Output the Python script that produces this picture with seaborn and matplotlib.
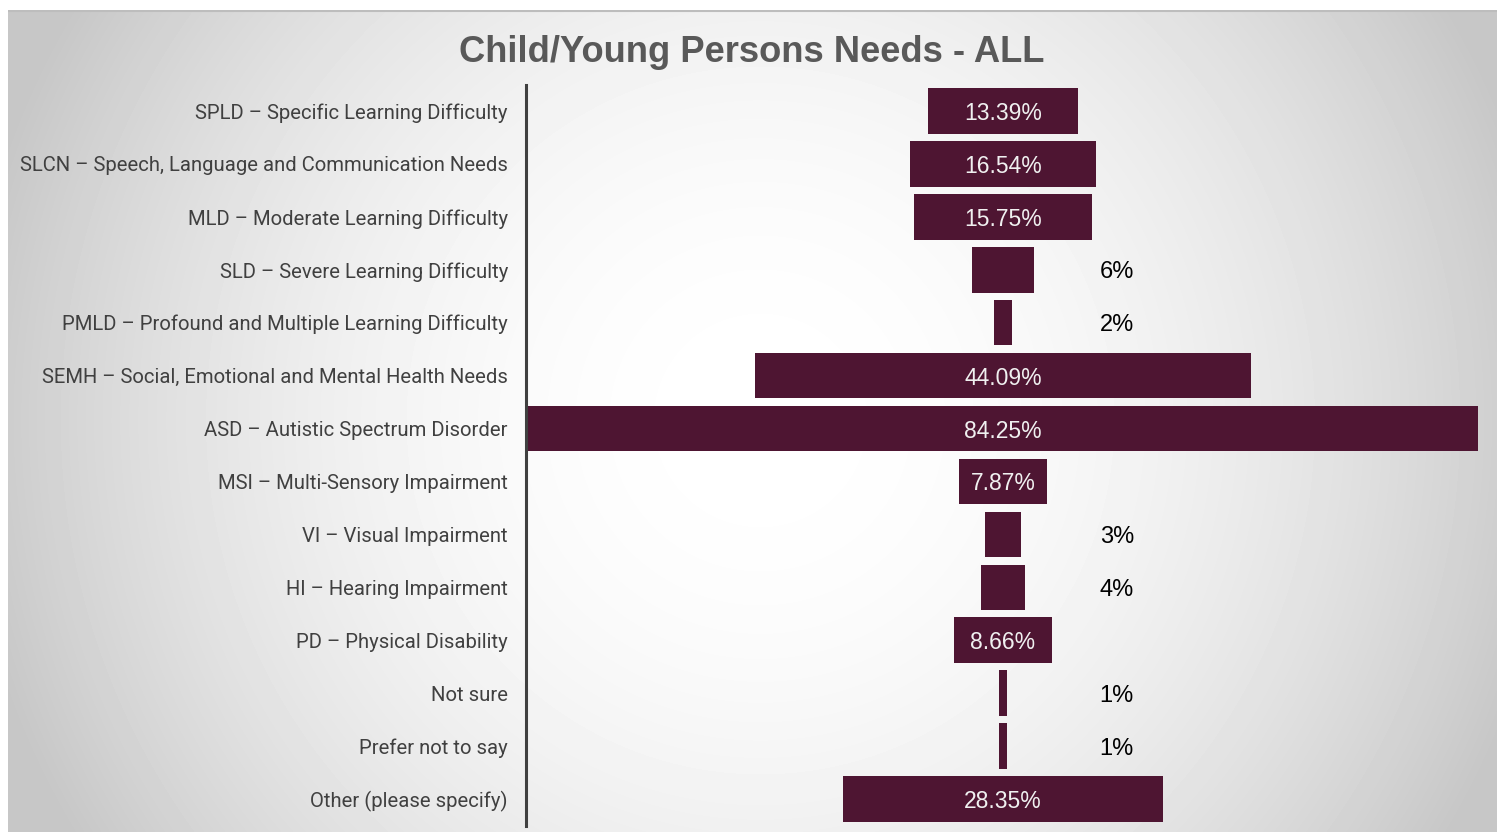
import numpy as np
import pandas as pd
import seaborn as sns
import matplotlib.pyplot as plt

# data
categories = [
    "SPLD – Specific Learning Difficulty",
    "SLCN – Speech, Language and Communication Needs",
    "MLD – Moderate Learning Difficulty",
    "SLD – Severe Learning Difficulty",
    "PMLD – Profound and Multiple Learning Difficulty",
    "SEMH – Social, Emotional and Mental Health Needs",
    "ASD – Autistic Spectrum Disorder",
    "MSI – Multi-Sensory Impairment",
    "VI – Visual Impairment",
    "HI – Hearing Impairment",
    "PD – Physical Disability",
    "Not sure",
    "Prefer not to say",
    "Other (please specify)",
]
values = [13.39, 16.54, 15.75, 5.51, 1.57, 44.09, 84.25, 7.87, 3.15, 3.94, 8.66, 0.79, 0.79, 28.35]
labels = ["13.39%", "16.54%", "15.75%", "6%", "2%", "44.09%", "84.25%",
          "7.87%", "3%", "4%", "8.66%", "1%", "1%", "28.35%"]

df = pd.DataFrame({"Need": categories, "Percent": values, "Label": labels})

sns.set_theme(style="white")
plt.rcParams['font.family'] = ['Liberation Sans', 'DejaVu Sans']

W, H = 1503, 832
fig = plt.figure(figsize=(W / 100, H / 100), dpi=100)
fig.patch.set_facecolor("white")

# slide-like radial grey background
bg = fig.add_axes([8 / W, 0, (1497 - 8) / W, (H - 10) / H])
yy, xx = np.mgrid[10:H, 8:1497]
d2 = ((xx - 760) ** 2 + (yy - 420) ** 2) / 800.0 ** 2
shade = 255 - 56 * np.minimum(d2, 1.0)
bg.imshow(shade, cmap="gray", vmin=0, vmax=255, aspect="auto", interpolation="bilinear")
bg.axhline(0, color="#bdbdbd", lw=1.5)
bg.set_axis_off()

ax = fig.add_axes([526 / W, 6.5 / H, 954 / W, 741 / H])
ax.patch.set_alpha(0)

sns.barplot(data=df, y="Need", x="Percent", orient="h", color="#4e1532",
            saturation=1, width=0.86, linewidth=0, ax=ax)

# centre every bar around zero (funnel layout)
for p in ax.patches:
    p.set_x(-p.get_width() / 2)

half = max(values) / 2
ax.set_xlim(-half - 0.2, half + 0.2)
ax.set_ylim(len(categories) - 0.5, -0.5)

for i, (v, lab) in enumerate(zip(values, labels)):
    if v >= 7:
        ax.text(0, i, lab, ha="center", va="center_baseline", color="#f0f0f0", fontsize=16.5)
    else:
        ax.text(10.1, i, lab, ha="center", va="center_baseline", color="black", fontsize=17)

ax.set_xlabel("")
ax.set_ylabel("")
ax.set_xticks([])
ax.tick_params(axis="y", length=0, pad=13)
for t in ax.get_yticklabels():
    t.set_family(['Roboto', 'Liberation Sans'])
    t.set_fontsize(14.6)
    t.set_color("#404040")

for s in ["top", "right", "bottom"]:
    ax.spines[s].set_visible(False)
ax.spines["left"].set_color("#404040")
ax.spines["left"].set_linewidth(2.2)

fig.text(752 / W, 1 - 52 / H, "Child/Young Persons Needs - ALL", ha="center", va="center",
         fontsize=26.2, fontweight="bold", color="#595959")

plt.savefig("out.png", dpi=100)
plt.close()
